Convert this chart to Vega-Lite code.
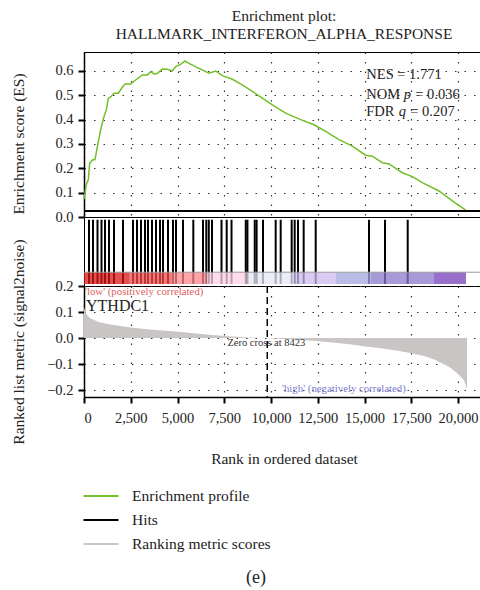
{
  "$schema": "https://vega.github.io/schema/vega-lite/v6.json",
  "padding": {"left": 10, "top": 8, "right": 0, "bottom": 5},
  "spacing": 0,
  "bounds": "flush",
  "config": {
    "font": "Liberation Serif",
    "view": {"stroke": "black", "strokeWidth": 1},
    "axis": {
      "labelFont": "Liberation Serif", "titleFont": "Liberation Serif",
      "labelFontSize": 14.5, "titleFontSize": 15.5, "titleFontWeight": "normal",
      "labelColor": "#222", "titleColor": "#222", "labelOverlap": false,
      "domainColor": "black", "domainWidth": 1.5, "tickColor": "black", "tickWidth": 2, "tickSize": 6,
      "gridDash": [1.5, 8], "gridColor": "#333", "gridWidth": 1.2, "gridOpacity": 1
    }
  },
  "resolve": {"scale": {"color": "shared"}},
  "datasets": {
    "es": [
      {"rank": 0, "es": 0.073}, {"rank": 125, "es": 0.134}, {"rank": 232, "es": 0.154}, {"rank": 303, "es": 0.22},
      {"rank": 446, "es": 0.234}, {"rank": 588, "es": 0.236}, {"rank": 749, "es": 0.304}, {"rank": 891, "es": 0.359},
      {"rank": 1070, "es": 0.413}, {"rank": 1194, "es": 0.44}, {"rank": 1301, "es": 0.488}, {"rank": 1426, "es": 0.493},
      {"rank": 1604, "es": 0.509}, {"rank": 1836, "es": 0.509}, {"rank": 2014, "es": 0.529}, {"rank": 2192, "es": 0.547},
      {"rank": 2496, "es": 0.547}, {"rank": 2763, "es": 0.563}, {"rank": 3119, "es": 0.584}, {"rank": 3387, "es": 0.584},
      {"rank": 3565, "es": 0.597}, {"rank": 3743, "es": 0.588}, {"rank": 3922, "es": 0.59}, {"rank": 4189, "es": 0.608},
      {"rank": 4456, "es": 0.607}, {"rank": 4724, "es": 0.6}, {"rank": 4902, "es": 0.618}, {"rank": 5169, "es": 0.627},
      {"rank": 5401, "es": 0.641}, {"rank": 5615, "es": 0.631}, {"rank": 6150, "es": 0.611}, {"rank": 6684, "es": 0.591},
      {"rank": 7041, "es": 0.6}, {"rank": 7397, "es": 0.581}, {"rank": 7932, "es": 0.566}, {"rank": 8467, "es": 0.543},
      {"rank": 9002, "es": 0.516}, {"rank": 9536, "es": 0.488}, {"rank": 10071, "es": 0.461}, {"rank": 10784, "es": 0.427},
      {"rank": 11586, "es": 0.4}, {"rank": 12299, "es": 0.379}, {"rank": 12923, "es": 0.352}, {"rank": 13636, "es": 0.318},
      {"rank": 14349, "es": 0.291}, {"rank": 15062, "es": 0.254}, {"rank": 15419, "es": 0.25}, {"rank": 15953, "es": 0.223},
      {"rank": 16310, "es": 0.218}, {"rank": 17023, "es": 0.182}, {"rank": 17557, "es": 0.166}, {"rank": 18092, "es": 0.141},
      {"rank": 18983, "es": 0.107}, {"rank": 19696, "es": 0.066}, {"rank": 20409, "es": 0.028}
    ],
    "hits": [
      {"rank": 268}, {"rank": 481}, {"rank": 722}, {"rank": 936}, {"rank": 1123}, {"rank": 1337}, {"rank": 1604},
      {"rank": 2086}, {"rank": 2620}, {"rank": 2834}, {"rank": 3048}, {"rank": 3262}, {"rank": 3422}, {"rank": 3636},
      {"rank": 3850}, {"rank": 4064}, {"rank": 4224}, {"rank": 4492}, {"rank": 4759}, {"rank": 4920}, {"rank": 5294},
      {"rank": 5845}, {"rank": 6364}, {"rank": 6540}, {"rank": 6674}, {"rank": 6845}, {"rank": 7353}, {"rank": 7631},
      {"rank": 7888}, {"rank": 8650}, {"rank": 8740}, {"rank": 9130}, {"rank": 9230}, {"rank": 9572}, {"rank": 10250},
      {"rank": 10517}, {"rank": 11105}, {"rank": 11266}, {"rank": 11444}, {"rank": 11747}, {"rank": 12390},
      {"rank": 15241}, {"rank": 16096}, {"rank": 17310}
    ],
    "bar": [
      {"seg": "s1", "start": 0, "end": 2450}, {"seg": "s2", "start": 2450, "end": 4700},
      {"seg": "s3", "start": 4700, "end": 6550}, {"seg": "s4", "start": 6550, "end": 8700},
      {"seg": "s5", "start": 8700, "end": 11230}, {"seg": "s6", "start": 11230, "end": 13476},
      {"seg": "s7", "start": 13476, "end": 15348}, {"seg": "s8", "start": 15348, "end": 18717},
      {"seg": "s9", "start": 18717, "end": 20428}
    ],
    "metric": [
      {"rank": 0, "metric": 0.12}, {"rank": 50, "metric": 0.105}, {"rank": 150, "metric": 0.09}, {"rank": 300, "metric": 0.078},
      {"rank": 500, "metric": 0.07}, {"rank": 800, "metric": 0.062}, {"rank": 1200, "metric": 0.055}, {"rank": 1700, "metric": 0.049},
      {"rank": 2500, "metric": 0.041}, {"rank": 3500, "metric": 0.033}, {"rank": 4400, "metric": 0.028}, {"rank": 5200, "metric": 0.023},
      {"rank": 6150, "metric": 0.017}, {"rank": 7000, "metric": 0.011}, {"rank": 7932, "metric": 0.006}, {"rank": 8800, "metric": 0.002},
      {"rank": 9800, "metric": 0.0}, {"rank": 10600, "metric": -0.003}, {"rank": 11497, "metric": -0.006}, {"rank": 12400, "metric": -0.011},
      {"rank": 13280, "metric": -0.017}, {"rank": 14200, "metric": -0.024}, {"rank": 15062, "metric": -0.032}, {"rank": 16000, "metric": -0.04},
      {"rank": 16845, "metric": -0.049}, {"rank": 17600, "metric": -0.059}, {"rank": 18270, "metric": -0.071}, {"rank": 18800, "metric": -0.084},
      {"rank": 19162, "metric": -0.097}, {"rank": 19550, "metric": -0.112}, {"rank": 19875, "metric": -0.13}, {"rank": 20150, "metric": -0.148},
      {"rank": 20320, "metric": -0.162}, {"rank": 20430, "metric": -0.185}, {"rank": 20480, "metric": -0.2}
    ]
  },
  "vconcat": [
    {
      "width": 400, "height": 165,
      "title": {
        "text": ["Enrichment plot:", "HALLMARK_INTERFERON_ALPHA_RESPONSE"],
        "frame": "group", "anchor": "middle", "font": "Liberation Serif", "fontSize": 15.5,
        "fontWeight": "normal", "color": "#222", "lineHeight": 18, "offset": 10
      },
      "layer": [
        {
          "data": {"name": "es"},
          "mark": {"type": "line", "strokeWidth": 1.5},
          "encoding": {
            "x": {"field": "rank", "type": "quantitative",
              "scale": {"domain": [0, 21390], "nice": false, "zero": false},
              "axis": {"labels": false, "ticks": false, "domain": false, "title": null, "grid": true,
                "values": [0, 2500, 5000, 7500, 10000, 12500, 15000, 17500, 20000]}},
            "y": {"field": "es", "type": "quantitative",
              "scale": {"domain": [0, 0.678], "nice": false},
              "axis": {"values": [0, 0.1, 0.2, 0.3, 0.4, 0.5, 0.6], "format": ".1f", "grid": true, "labelOverlap": false, "tickCount": 7,
                "title": "Enrichment score (ES)", "titleX": -66, "titleY": 91.5, "titleBaseline": "middle", "labelPadding": 5}},
            "color": {"datum": "Enrichment profile", "type": "nominal",
              "scale": {"domain": ["Enrichment profile", "Hits", "Ranking metric scores"], "range": ["#72bf2a", "#000000", "#c9c5c5"]},
              "legend": {"orient": "none", "legendX": 7, "legendY": 434, "title": null, "direction": "vertical",
                "symbolType": "M-2,0L2,0", "symbolSize": 306, "symbolStrokeWidth": 2,
                "labelFont": "Liberation Serif", "labelFontSize": 15.5, "labelColor": "#222", "labelOffset": 21, "rowPadding": 5}}
          }
        },
        {
          "data": {"values": [{}]},
          "mark": {"type": "rule", "color": "black", "strokeWidth": 2},
          "encoding": {"y": {"datum": 0.025}}
        },
        {
          "data": {"values": [{"t": "NES = 1.771"}]},
          "mark": {"type": "text", "align": "left", "baseline": "middle", "fontSize": 14.5, "color": "#222"},
          "encoding": {"x": {"datum": 15096}, "y": {"datum": 0.582}, "text": {"field": "t"}}
        },
        {
          "data": {"values": [{"t": "NOM"}]},
          "mark": {"type": "text", "align": "left", "baseline": "middle", "fontSize": 14.5, "color": "#222"},
          "encoding": {"x": {"datum": 15096}, "y": {"datum": 0.5}, "text": {"field": "t"}}
        },
        {
          "data": {"values": [{"t": "p"}]},
          "mark": {"type": "text", "align": "left", "baseline": "middle", "fontSize": 14.5, "fontStyle": "italic", "color": "#222", "dx": 37.5},
          "encoding": {"x": {"datum": 15096}, "y": {"datum": 0.5}, "text": {"field": "t"}}
        },
        {
          "data": {"values": [{"t": "= 0.036"}]},
          "mark": {"type": "text", "align": "left", "baseline": "middle", "fontSize": 14.5, "color": "#222", "dx": 49},
          "encoding": {"x": {"datum": 15096}, "y": {"datum": 0.5}, "text": {"field": "t"}}
        },
        {
          "data": {"values": [{"t": "FDR"}]},
          "mark": {"type": "text", "align": "left", "baseline": "middle", "fontSize": 14.5, "color": "#222"},
          "encoding": {"x": {"datum": 15096}, "y": {"datum": 0.432}, "text": {"field": "t"}}
        },
        {
          "data": {"values": [{"t": "q"}]},
          "mark": {"type": "text", "align": "left", "baseline": "middle", "fontSize": 14.5, "fontStyle": "italic", "color": "#222", "dx": 32.5},
          "encoding": {"x": {"datum": 15096}, "y": {"datum": 0.432}, "text": {"field": "t"}}
        },
        {
          "data": {"values": [{"t": "= 0.207"}]},
          "mark": {"type": "text", "align": "left", "baseline": "middle", "fontSize": 14.5, "color": "#222", "dx": 44},
          "encoding": {"x": {"datum": 15096}, "y": {"datum": 0.432}, "text": {"field": "t"}}
        }
      ]
    },
    {
      "width": 400, "height": 69,
      "layer": [
        {
          "data": {"name": "hits"},
          "mark": {"type": "rule", "strokeWidth": 2},
          "encoding": {
            "x": {"field": "rank", "type": "quantitative", "scale": {"domain": [0, 21390], "nice": false, "zero": false}, "axis": null},
            "y": {"datum": 0.03, "type": "quantitative", "scale": {"domain": [0, 1], "nice": false}, "axis": null},
            "y2": {"datum": 0.96},
            "color": {"datum": "Hits", "type": "nominal"}
          }
        },
        {
          "data": {"name": "bar"},
          "mark": {"type": "rect", "opacity": 0.75},
          "encoding": {
            "x": {"field": "start", "type": "quantitative"},
            "x2": {"field": "end"},
            "y": {"datum": 0.03, "type": "quantitative"},
            "y2": {"datum": 0.2},
            "fill": {"field": "seg", "type": "nominal",
              "scale": {"domain": ["s1", "s2", "s3", "s4", "s5", "s6", "s7", "s8", "s9"],
                "range": ["#d81616", "#f64b4b", "#ff878e", "#ffd0e4", "#e6e6f6", "#cbbbee", "#a0a6de", "#8b78cb", "#7640bb"]},
              "legend": null}
          }
        },
        {
          "data": {"values": [{}]},
          "mark": {"type": "rule", "color": "#999", "strokeWidth": 1},
          "encoding": {"y": {"datum": 0.2, "type": "quantitative"}}
        }
      ]
    },
    {
      "width": 400, "height": 111,
      "title": {"text": "(e)", "orient": "bottom", "frame": "group", "anchor": "middle", "font": "Liberation Serif",
        "fontSize": 18, "fontWeight": "normal", "color": "#222", "dx": -28, "offset": 102},
      "layer": [
        {
          "data": {"name": "metric"},
          "mark": {"type": "area"},
          "encoding": {
            "x": {"field": "rank", "type": "quantitative",
              "scale": {"domain": [0, 21390], "nice": false, "zero": false},
              "axis": {"values": [0, 2500, 5000, 7500, 10000, 12500, 15000, 17500, 20000], "format": ",d", "grid": true, "labelOverlap": false,
                "title": "Rank in ordered dataset", "labelPadding": 8, "titlePadding": 27}},
            "y": {"field": "metric", "type": "quantitative",
              "scale": {"domain": [-0.226, 0.2], "nice": false, "zero": false},
              "axis": {"values": [-0.2, -0.1, 0, 0.1, 0.2], "format": ".1f", "grid": true, "labelOverlap": false, "tickCount": 5,
                "title": "Ranked list metric (signal2noise)", "titleX": -66, "titleBaseline": "middle", "labelPadding": 5}},
            "color": {"datum": "Ranking metric scores", "type": "nominal"}
          }
        },
        {
          "data": {"values": [{}]},
          "mark": {"type": "rule", "color": "black", "strokeWidth": 1.5, "strokeDash": [7, 4]},
          "encoding": {"x": {"datum": 9800}}
        },
        {
          "data": {"values": [{"t": "Zero cross at 8423"}]},
          "mark": {"type": "text", "align": "center", "baseline": "middle", "fontSize": 10.5, "color": "#333"},
          "encoding": {"x": {"datum": 9750}, "y": {"datum": -0.02}, "text": {"field": "t"}}
        },
        {
          "data": {"values": [{"t": "YTHDC1"}]},
          "mark": {"type": "text", "align": "left", "baseline": "middle", "fontSize": 16, "color": "#222"},
          "encoding": {"x": {"datum": 107}, "y": {"datum": 0.125}, "text": {"field": "t"}}
        },
        {
          "data": {"values": [{"t": "'low' (positively correlated)"}]},
          "mark": {"type": "text", "align": "left", "baseline": "middle", "fontSize": 10.8, "color": "#e06060"},
          "encoding": {"x": {"datum": 53}, "y": {"datum": 0.178}, "text": {"field": "t"}}
        },
        {
          "data": {"values": [{"t": "'high' (negatively correlated)"}]},
          "mark": {"type": "text", "align": "left", "baseline": "middle", "fontSize": 10.8, "color": "#7b7bd0"},
          "encoding": {"x": {"datum": 10588}, "y": {"datum": -0.197}, "text": {"field": "t"}}
        }
      ]
    }
  ]
}
